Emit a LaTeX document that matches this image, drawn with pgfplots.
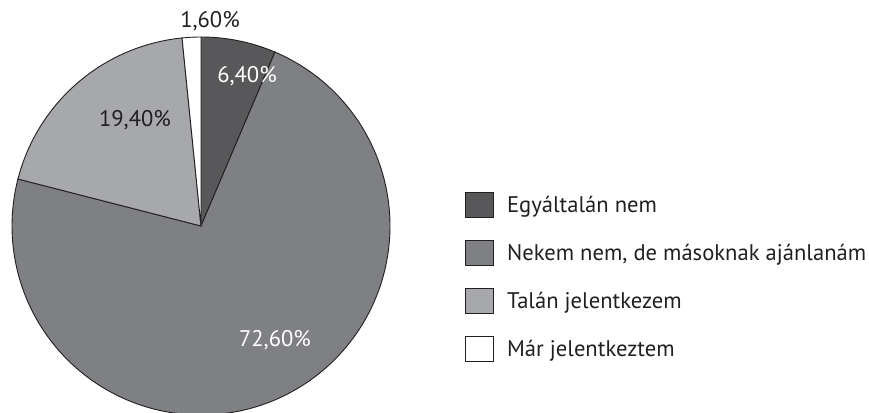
\documentclass[border=0pt]{standalone}
\usepackage{fontspec}
\setmainfont{PT Sans}
\usepackage{pgfplots}
\pgfplotsset{compat=1.18}
\definecolor{cdark}{HTML}{58585A}
\definecolor{cmed}{HTML}{7F8083}
\definecolor{clight}{HTML}{A7A8AB}
\definecolor{ctext}{HTML}{231F20}
% shares in percent
\def\va{6.4}
\def\vb{72.6}
\def\vc{19.4}
\def\vd{1.6}
\def\cx{201}
\def\cy{-226}
\def\R{189}
\begin{document}
\begin{tikzpicture}
\begin{axis}[
  scale only axis, width=869pt, height=412pt,
  xmin=0, xmax=869, ymin=-412, ymax=0,
  hide axis, clip=true,
  legend style={draw=none, fill=none, at={(axis cs:462,-190)}, anchor=north west,
    font=\fontsize{22.6}{25}\selectfont, text=ctext, row sep=22pt,
    nodes={inner sep=0pt, anchor=west},
    /tikz/every odd column/.append style={column sep=13pt}},
  legend cell align=left,
  legend image code/.code={\draw[#1, draw=ctext, line width=0.9pt] (0pt,-12.5pt) rectangle (28pt,12.5pt);},
]
\addplot[fill=cdark, draw=ctext, line width=0.9pt, domain={90-3.6*\va}:90, samples=40]
  ({\cx+\R*cos(x)},{\cy+\R*sin(x)}) -- (axis cs:\cx,\cy) -- cycle;
\addlegendentry{Egyáltalán nem}
\addplot[fill=cmed, draw=ctext, line width=0.9pt, domain={90-3.6*(\va+\vb)}:{90-3.6*\va}, samples=200]
  ({\cx+\R*cos(x)},{\cy+\R*sin(x)}) -- (axis cs:\cx,\cy) -- cycle;
\addlegendentry{Nekem nem, de másoknak ajánlanám}
\addplot[fill=clight, draw=ctext, line width=0.9pt, domain={90-3.6*(\va+\vb+\vc)}:{90-3.6*(\va+\vb)}, samples=80]
  ({\cx+\R*cos(x)},{\cy+\R*sin(x)}) -- (axis cs:\cx,\cy) -- cycle;
\addlegendentry{Talán jelentkezem}
\addplot[fill=white, draw=ctext, line width=0.9pt, domain={-270}:{90-3.6*(\va+\vb+\vc)}, samples=10]
  ({\cx+\R*cos(x)},{\cy+\R*sin(x)}) -- (axis cs:\cx,\cy) -- cycle;
\addlegendentry{Már jelentkeztem}
\node[font=\fontsize{22.6}{25}\selectfont, text=ctext] at (axis cs:210,-21) {1,60\%};
\node[font=\fontsize{22.6}{25}\selectfont, text=white] at (axis cs:247,-76) {6,40\%};
\node[font=\fontsize{22.6}{25}\selectfont, text=ctext] at (axis cs:135,-120) {19,40\%};
\node[font=\fontsize{22.6}{25}\selectfont, text=white] at (axis cs:275,-340) {72,60\%};
\end{axis}
\pgfresetboundingbox
\useasboundingbox (current axis.south west) rectangle (current axis.north east);
\end{tikzpicture}
\end{document}
